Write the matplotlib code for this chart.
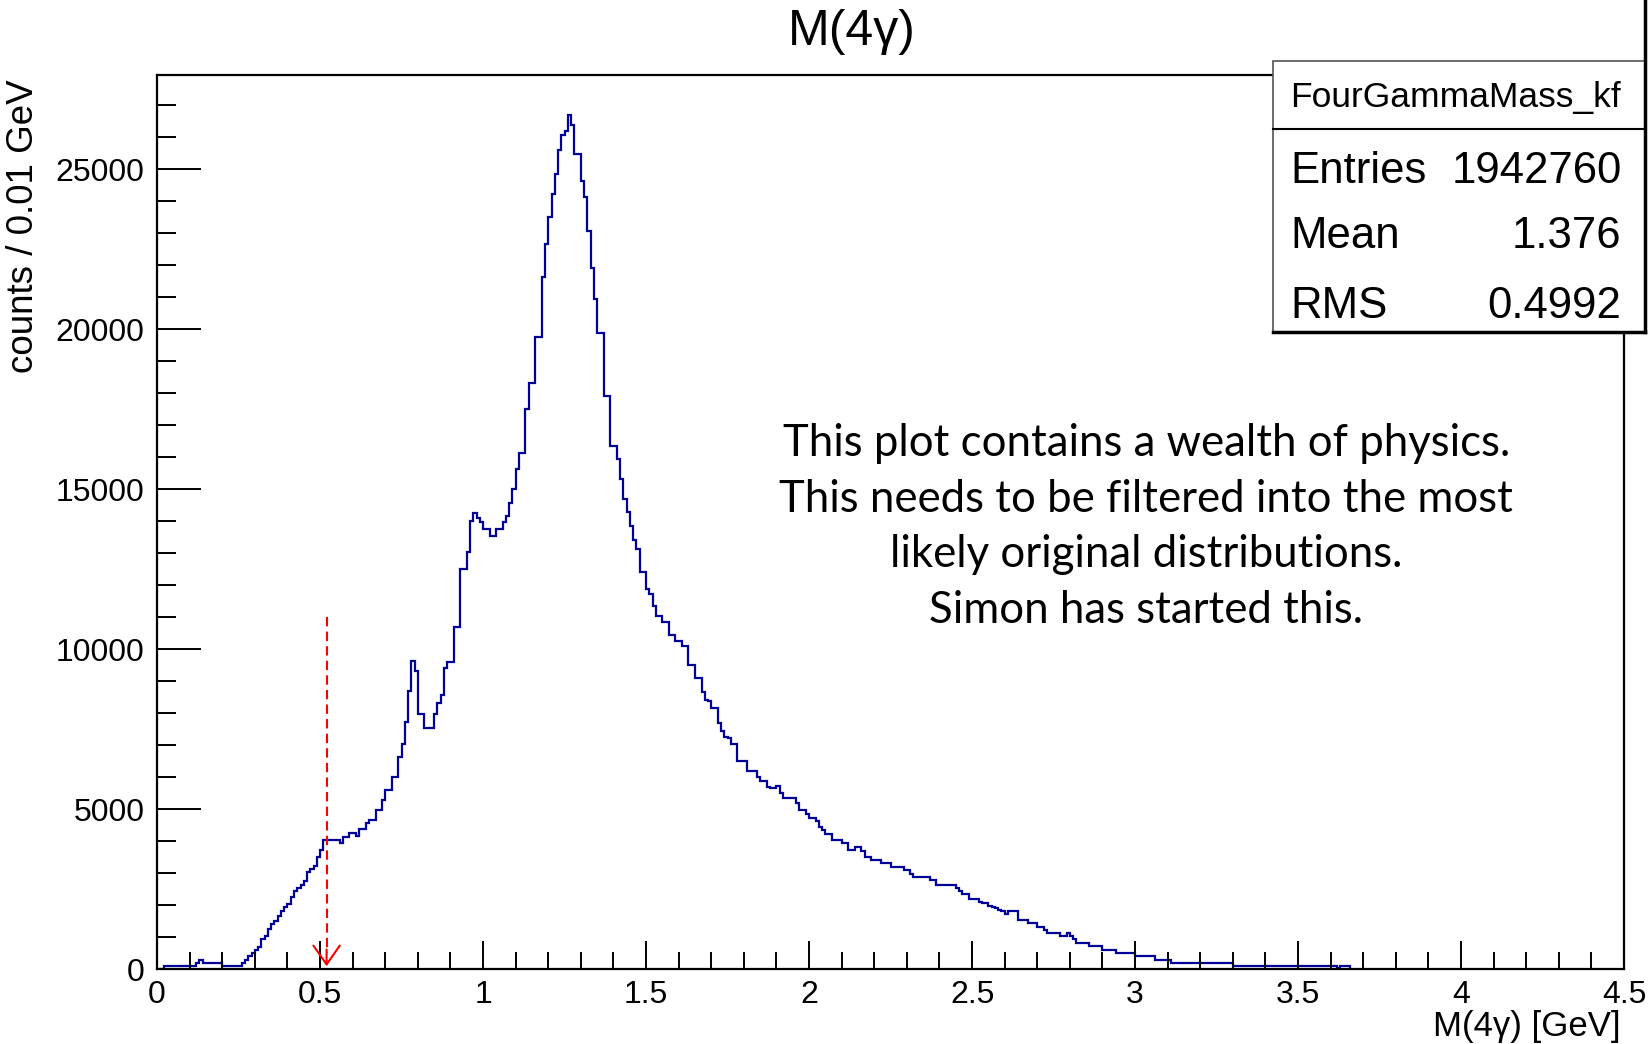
import numpy as np
import matplotlib
matplotlib.use('Agg')
import matplotlib.pyplot as plt
from matplotlib import font_manager
from matplotlib.patches import Rectangle
from matplotlib.lines import Line2D
from matplotlib.ticker import MultipleLocator, FuncFormatter

# counts per 0.01 GeV bin, grouped by half-GeV ranges
counts_000 = [0, 0, 88, 88, 88, 88, 88, 88, 88, 88,
              88, 88, 192, 296, 192, 192, 192, 192, 192, 192,
              88, 88, 88, 88, 88, 88, 192, 296, 400, 505,
              600, 700, 940, 1045, 1250, 1410, 1515, 1670, 1827, 1930,
              2035, 2245, 2450, 2530, 2630, 2765, 3030, 3130, 3235, 3495]
counts_050 = [3710, 4025, 4025, 4025, 4025, 4025, 3940, 4130, 4130, 4250,
              4250, 4170, 4390, 4390, 4570, 4670, 4670, 4965, 4965, 5280,
              5590, 5590, 6010, 6010, 6635, 7020, 7735, 8690, 9640, 9320,
              7970, 7970, 7545, 7545, 7545, 7970, 8310, 8570, 9425, 9610,
              9610, 10680, 10680, 12500, 12500, 13030, 14000, 14260, 14100, 13960]
counts_100 = [13760, 13760, 13550, 13550, 13760, 13760, 13960, 14175, 14570, 15000,
              15620, 16140, 16140, 17500, 18310, 18310, 19760, 19760, 21620, 22660,
              23500, 24230, 24860, 25590, 26060, 26200, 26700, 26390, 25480, 25480,
              24650, 24130, 23080, 21930, 20940, 19870, 19870, 17910, 17910, 16350,
              16350, 15930, 15320, 14680, 14280, 13840, 13420, 13130, 12400, 12400]
counts_150 = [11880, 11730, 11360, 11050, 11050, 10840, 10840, 10430, 10430, 10240,
              10240, 10110, 10110, 9505, 9505, 9085, 9085, 8670, 8410, 8390,
              8150, 8150, 7680, 7450, 7240, 7230, 7030, 7025, 6510, 6510,
              6510, 6200, 6200, 6200, 5990, 5885, 5885, 5700, 5645, 5645,
              5730, 5490, 5360, 5360, 5360, 5360, 5175, 4970, 4970, 4860]
counts_200 = [4735, 4735, 4630, 4440, 4340, 4235, 4235, 4030, 4030, 4030,
              3925, 3925, 3715, 3715, 3820, 3820, 3695, 3505, 3505, 3400,
              3400, 3400, 3300, 3300, 3300, 3190, 3190, 3190, 3190, 3085,
              3085, 2980, 2890, 2890, 2890, 2890, 2890, 2770, 2770, 2615,
              2615, 2615, 2615, 2615, 2615, 2540, 2455, 2350, 2350, 2195]
counts_250 = [2195, 2195, 2100, 2050, 2050, 1980, 1950, 1900, 1850, 1811,
              1720, 1811, 1811, 1811, 1540, 1540, 1540, 1435, 1435, 1435,
              1310, 1310, 1205, 1120, 1120, 1120, 1120, 1020, 1020, 1120,
              1020, 946, 810, 810, 810, 810, 705, 705, 705, 705,
              600, 600, 600, 600, 508, 508, 508, 508, 508, 508]
counts_300 = [393, 393, 393, 393, 393, 393, 290, 290, 290, 290,
              290, 196, 196, 196, 196, 196, 196, 196, 196, 196,
              196, 196, 196, 196, 196, 196, 196, 196, 196, 196,
              92, 92, 92, 92, 92, 92, 92, 92, 92, 92,
              92, 92, 92, 92, 92, 92, 92, 92, 92, 92,
              92, 92, 92, 92, 92, 92, 92, 92, 92, 92,
              92, 92, 30, 92, 92, 92]

bin_width = 0.01
stats_name = "FourGammaMass_kf"
stats_rows = [("Entries", "1942760"), ("Mean", "1.376"), ("RMS", "0.4992")]
arrow_x = 0.52
arrow_top = 11000
note = ("This plot contains a wealth of physics.\n"
        "This needs to be filtered into the most\n"
        "likely original distributions.\n"
        "Simon has started this.")

counts = np.array(counts_000 + counts_050 + counts_100 + counts_150 +
                  counts_200 + counts_250 + counts_300, dtype=float)
edges = np.arange(len(counts) + 1) * bin_width

names = {f.name for f in font_manager.fontManager.ttflist}
if 'Liberation Sans Narrow' in names:
    tick_font, tick_size = 'Liberation Sans Narrow', 28
else:
    tick_font, tick_size = 'Liberation Sans', 23
plt.rcParams['font.family'] = 'Liberation Sans'

fig = plt.figure(figsize=(16.5, 10.44), dpi=100)
ax = fig.add_axes([0.0952, 0.0718, 0.8891, 0.8564])

ax.stairs(counts, edges, color='#000099', lw=1.6, baseline=0)

ax.set_xlim(0, 4.5)
ax.set_ylim(0, 27950)
for s in ax.spines.values():
    s.set_linewidth(1.6)

ax.xaxis.set_major_locator(MultipleLocator(0.5))
ax.xaxis.set_minor_locator(MultipleLocator(0.1))
ax.yaxis.set_major_locator(MultipleLocator(5000))
ax.yaxis.set_minor_locator(MultipleLocator(1000))
ax.xaxis.set_major_formatter(FuncFormatter(lambda v, p: '%g' % v))
ax.yaxis.set_major_formatter(FuncFormatter(lambda v, p: '%d' % v))
ax.tick_params(which='both', direction='in', width=1.4, color='black')
ax.tick_params(axis='x', which='major', length=20, pad=8)
ax.tick_params(axis='x', which='minor', length=12)
ax.tick_params(axis='y', which='major', length=32, pad=9)
ax.tick_params(axis='y', which='minor', length=14)
for lab in ax.get_xticklabels() + ax.get_yticklabels():
    lab.set_fontfamily(tick_font)
    lab.set_fontsize(tick_size)

# red dashed marker with open arrow head
ax.plot([arrow_x, arrow_x], [arrow_top, 500], color='red', lw=1.5,
        dashes=(4.5, 2.5))
ax.annotate('', xy=(arrow_x, 0), xytext=(arrow_x, 700),
            arrowprops=dict(arrowstyle='->,head_length=0.4,head_width=0.28',
                            color='red', lw=1.5, mutation_scale=34))

fig.text(0.516, 0.969, 'M(4γ)', ha='center', va='center', fontsize=36)
fig.text(0.014, 0.924, 'counts / 0.01 GeV', rotation=90, ha='center',
         va='top', fontsize=26.5)
fig.text(0.9824, 0.0326, 'M(4γ) [GeV]', ha='right', va='top',
         fontsize=tick_size + 2, family=tick_font)

# stats box
bx0, by0, bw, bh = 0.7713, 0.6823, 0.2257, 0.2596
fig.patches.append(Rectangle((bx0, by0), bw, bh, transform=fig.transFigure,
                             facecolor='white', edgecolor='#555555', lw=1.2,
                             zorder=5))
fig.lines.append(Line2D([bx0, bx0 + bw], [0.8761, 0.8761],
                        transform=fig.transFigure, color='black', lw=1.5,
                        zorder=6))
fig.lines.append(Line2D([bx0, bx0 + bw], [by0, by0],
                        transform=fig.transFigure, color='black', lw=2.5,
                        zorder=6))
fig.lines.append(Line2D([0.997, 0.997], [1.0, by0],
                        transform=fig.transFigure, color='black', lw=2.5,
                        zorder=6))
fig.text(0.8824, 0.8978, stats_name, ha='center', va='baseline',
         fontsize=25.5, zorder=7)
for (k, v), yb in zip(stats_rows, [0.8247, 0.7625, 0.6954]):
    fig.text(0.7818, yb, k, ha='left', va='baseline', fontsize=31.5, zorder=7)
    fig.text(0.9828, yb, v, ha='right', va='baseline', fontsize=31.5, zorder=7)

fig.text(0.6948, 0.4952, note, ha='center', va='center',
         multialignment='center', fontsize=31.5, family='Lato',
         linespacing=1.45)

fig.savefig('out.png', dpi=100)
